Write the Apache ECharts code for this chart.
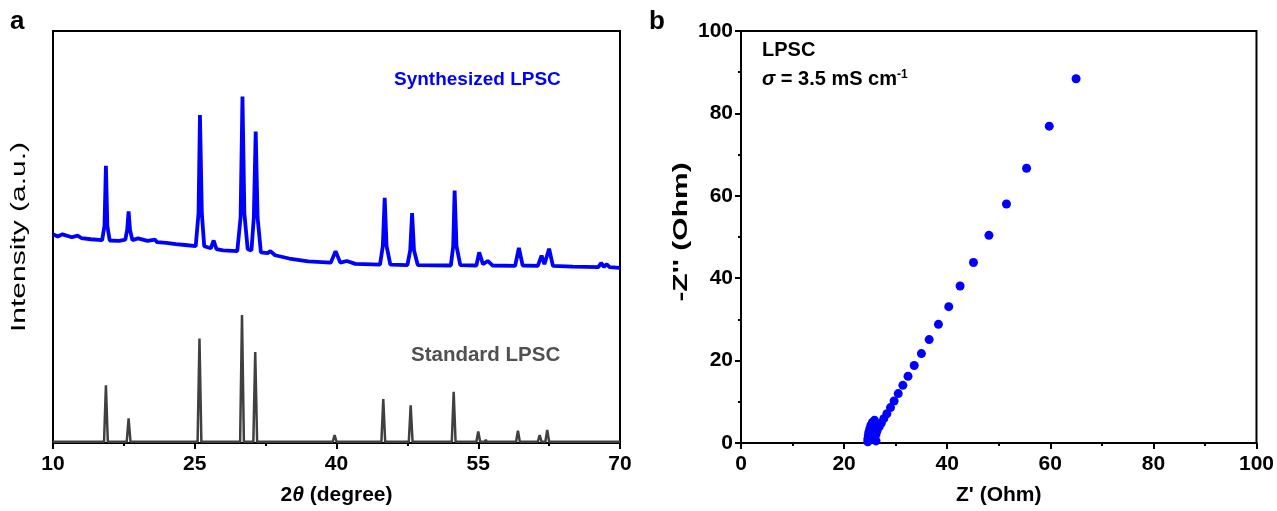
<!DOCTYPE html>
<html><head><meta charset="utf-8">
<script src="https://cdn.jsdelivr.net/npm/echarts@6/dist/echarts.min.js"></script>
<style>html,body{margin:0;padding:0;background:#fff}#c{width:1277px;height:511px}</style>
</head><body><div id="c"></div>
<script>
// XRD: synthesized LPSC (2theta, intensity a.u.)
var synthesized = [[10,50.9],[10.5,50.4],[11,50.9],[12,50.2],[12.6,50.6],[13,50.0],[14,49.7],[15.2,49.5],[15.45,53],[15.6,67.6],[15.75,53],[16.0,49.4],[17.0,49.3],[17.65,49.6],[17.85,52],[18.0,56.5],[18.15,52],[18.4,49.5],[19,49.9],[20,49.3],[20.8,49.6],[21,49.0],[22,48.8],[23,48.5],[24,48.3],[25.1,48.0],[25.4,56],[25.55,80.0],[25.75,56],[26.0,48.0],[26.7,47.5],[27.0,49.4],[27.3,47.3],[28,47.0],[29.5,46.8],[29.85,55],[30.05,84.5],[30.25,56],[30.6,47.3],[31.0,47.0],[31.25,55],[31.45,76.0],[31.65,55],[32.0,46.5],[32.7,46.3],[33,46.8],[33.5,45.8],[35,45.0],[37,44.3],[39.4,44.0],[39.9,46.8],[40.4,44.0],[41.1,44.4],[42,43.7],[44.6,43.5],[44.9,48],[45.1,59.8],[45.3,48],[45.7,43.5],[47.5,43.4],[47.8,47],[48.0,56.1],[48.2,47],[48.6,43.4],[52.1,43.3],[52.35,48],[52.5,61.6],[52.7,48],[53.1,43.4],[54.8,43.3],[55.1,46.5],[55.5,43.6],[56.0,44.4],[56.5,43.3],[58.9,43.2],[59.3,47.6],[59.7,43.3],[61.3,43.2],[61.7,45.7],[62.0,43.6],[62.5,47.4],[62.9,43.2],[65,43.0],[67.7,42.9],[68.0,43.9],[68.3,43.0],[68.6,43.6],[68.9,42.9],[70,42.7]];
// XRD: standard LPSC reference pattern
var standard = [[10,0.3],[15.4,0.3],[15.6,14.1],[15.8,0.3],[17.8,0.3],[18.0,6.0],[18.2,0.3],[25.3,0.3],[25.5,25.5],[25.7,0.3],[29.8,0.3],[30.0,31.2],[30.2,0.3],[31.2,0.3],[31.4,22.2],[31.6,0.3],[39.6,0.3],[39.8,1.9],[40.0,0.3],[40.8,0.3],[40.9,0.6],[41.0,0.3],[44.75,0.3],[44.95,10.7],[45.15,0.3],[47.65,0.3],[47.85,9.2],[48.05,0.3],[52.2,0.3],[52.4,12.5],[52.6,0.3],[54.8,0.3],[55.0,2.8],[55.2,0.3],[55.7,0.3],[55.8,0.8],[55.9,0.3],[59.0,0.3],[59.2,3.0],[59.4,0.3],[61.3,0.3],[61.5,1.9],[61.7,0.3],[62.1,0.3],[62.3,3.2],[62.5,0.3],[67.7,0.3],[67.8,0.6],[67.9,0.3],[68.4,0.3],[68.5,0.6],[68.6,0.3],[70,0.3]];
// EIS Nyquist: Z' (Ohm), -Z'' (Ohm)
var nyquist = [[24.6,0.3],[24.6,1.0],[24.7,1.8],[24.8,2.6],[25.0,3.5],[25.2,4.3],[25.5,5.0],[25.9,5.5],[26.1,4.6],[26.0,3.6],[25.9,2.6],[26.0,1.6],[25.9,0.8],[26.2,0.5],[26.2,2.2],[26.4,3.0],[26.8,3.9],[27.2,4.8],[27.7,5.9],[28.3,7.1],[29.0,8.6],[29.7,10.2],[30.5,12.0],[31.4,14.0],[32.4,16.2],[33.6,18.8],[35.0,21.7],[36.5,25.1],[38.3,28.8],[40.3,33.1],[42.5,38.1],[45.1,43.8],[48.1,50.4],[51.5,58.0],[55.4,66.7],[59.8,76.9],[65.0,88.4]];
var xrdTicks = [10,25,40,55,70];

var F = 'Liberation Sans, Arial, sans-serif';
var axisLine = {show:true, lineStyle:{color:'#000', width:2}};
var chart = echarts.init(document.getElementById('c'), null, {renderer:'canvas'});
chart.setOption({
  animation:false,
  grid:[
    {left:53, right:657, top:31, bottom:67, show:true, borderColor:'#000', borderWidth:2, backgroundColor:'transparent'},
    {left:741, right:19, top:31, bottom:67, show:true, borderColor:'#000', borderWidth:2, backgroundColor:'transparent'}
  ],
  xAxis:[
    {gridIndex:0, type:'value', min:xrdTicks[0], max:xrdTicks[xrdTicks.length-1], interval:15,
     axisLine:axisLine, axisTick:{show:true, length:6, inside:false, lineStyle:{width:2,color:'#000'}},
     minorTick:{show:true, splitNumber:2, length:3, lineStyle:{width:2,color:'#000'}},
     splitLine:{show:false},
     axisLabel:{fontFamily:F, fontWeight:'bold', fontSize:21, color:'#000', margin:11},
     name:'2{i|θ} (degree)', nameLocation:'middle', nameGap:42,
     nameTextStyle:{fontFamily:F, fontWeight:'bold', fontSize:21, color:'#000',
       rich:{i:{fontFamily:F, fontWeight:'bold', fontStyle:'italic', fontSize:21, color:'#000'}}}},
    {gridIndex:1, type:'value', min:0, max:100, interval:20,
     axisLine:axisLine, axisTick:{show:true, length:6, lineStyle:{width:2,color:'#000'}},
     minorTick:{show:true, splitNumber:2, length:3, lineStyle:{width:2,color:'#000'}},
     splitLine:{show:false},
     axisLabel:{fontFamily:F, fontWeight:'bold', fontSize:21, color:'#000', margin:11},
     name:"Z' (Ohm)", nameLocation:'middle', nameGap:42,
     nameTextStyle:{fontFamily:F, fontWeight:'bold', fontSize:21, color:'#000'}}
  ],
  yAxis:[
    {gridIndex:0, type:'value', min:0, max:100.5,
     axisLine:axisLine, axisTick:{show:false}, axisLabel:{show:false}, splitLine:{show:false}},
    {gridIndex:1, type:'value', min:0, max:100, interval:20,
     axisLine:axisLine, axisTick:{show:true, length:6, lineStyle:{width:2,color:'#000'}},
     minorTick:{show:true, splitNumber:2, length:3, lineStyle:{width:2,color:'#000'}},
     splitLine:{show:false},
     axisLabel:{fontFamily:F, fontWeight:'bold', fontSize:21, color:'#000', margin:8}}
  ],
  series:[
    {type:'line', xAxisIndex:0, yAxisIndex:0, data:standard, showSymbol:false, symbol:'none',
     lineStyle:{color:'#404040', width:2.5}, z:3},
    {type:'line', xAxisIndex:0, yAxisIndex:0, data:synthesized, showSymbol:false, symbol:'none',
     lineStyle:{color:'#0000ff', width:3.8}, z:4},
    {type:'scatter', xAxisIndex:1, yAxisIndex:1, data:nyquist, symbol:'circle', symbolSize:9,
     itemStyle:{color:'#0000ff', opacity:1}, z:4}
  ],
  graphic:[
    {type:'text', left:10, top:9, style:{text:'a', fontFamily:F, fontWeight:'bold', fontSize:26, fill:'#000'}},
    {type:'text', left:649, top:9, style:{text:'b', fontFamily:F, fontWeight:'bold', fontSize:26, fill:'#000'}},
    {type:'text', x:19, y:237, rotation:Math.PI/2, scaleX:1.5, scaleY:1,
     style:{text:'Intensity (a.u.)', fontFamily:F, fontSize:20, fill:'#000', align:'center', verticalAlign:'middle'}},
    {type:'text', x:681, y:232, rotation:Math.PI/2, scaleX:1.5, scaleY:1,
     style:{text:"-Z'' (Ohm)", fontFamily:F, fontWeight:'bold', fontSize:20, fill:'#000', align:'center', verticalAlign:'middle'}},
    {type:'text', left:394, top:70, style:{text:'Synthesized LPSC', fontFamily:F, fontWeight:'bold', fontSize:19, fill:'#0000ff'}},
    {type:'text', left:411, top:345, style:{text:'Standard LPSC', fontFamily:F, fontWeight:'bold', fontSize:20.5, fill:'#505050'}},
    {type:'text', left:762, top:40, style:{text:'LPSC', fontFamily:F, fontWeight:'bold', fontSize:20, fill:'#000'}},
    {type:'text', left:762, top:69, style:{text:'{i|σ} = 3.5 mS cm{s|-1}', fontFamily:F, fontWeight:'bold', fontSize:20, fill:'#000',
       rich:{i:{fontFamily:F, fontWeight:'bold', fontStyle:'italic', fontSize:20, fill:'#000'},
             s:{fontFamily:F, fontWeight:'bold', fontSize:12, fill:'#000', verticalAlign:'top', padding:[0,0,8,0]}}}}
  ]
});
</script></body></html>
